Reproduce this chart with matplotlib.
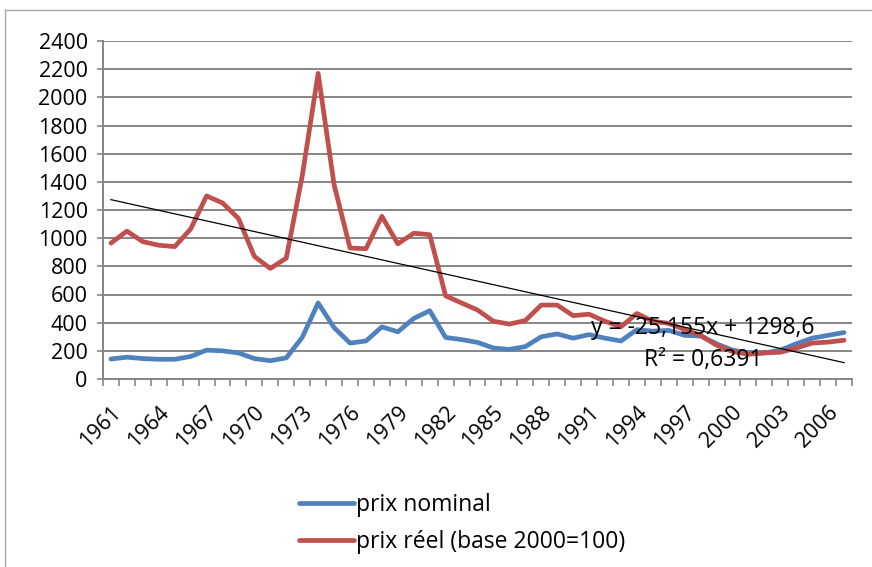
import numpy as np
import matplotlib
matplotlib.use('Agg')
import matplotlib.pyplot as plt
from matplotlib.lines import Line2D

years = list(range(1961, 2008))
prix_nominal = [142, 155, 145, 140, 140, 160, 205, 200, 185, 145, 130, 150, 295, 540, 365,
                255, 270, 370, 335, 430, 485, 295, 280, 260, 220, 210, 230, 300, 320, 290,
                315, 290, 270, 350, 340, 345, 310, 305, 250, 205, 185, 185, 205, 250, 290,
                310, 330]
prix_reel = [965, 1050, 975, 950, 940, 1065, 1300, 1250, 1140, 870, 785, 858, 1440, 2170, 1380,
             930, 925, 1155, 960, 1035, 1025, 590, 540, 490, 410, 390, 415, 525, 525, 450,
             460, 410, 370, 465, 410, 395, 350, 310, 240, 195, 175, 185, 190, 220, 255,
             262, 275]
slope = -25.155
intercept = 1298.6
r2 = '0,6391'
yticks = list(range(0, 2401, 200))

plt.rcParams['font.family'] = ['Open Sans', 'DejaVu Sans']

fig = plt.figure(figsize=(8.72, 5.67), dpi=100)
ax = fig.add_axes([103 / 872, 1 - 379 / 567, 749 / 872, 338 / 567])

x = np.arange(1, len(years) + 1)
grid_col = '#868686'

for v in yticks:
    ax.axhline(v, color=grid_col, lw=1.4, zorder=1)

l1, = ax.plot(x, prix_nominal, color='#4F81BD', lw=3.4, solid_capstyle='round',
              solid_joinstyle='round', label='prix nominal', zorder=3)
l2, = ax.plot(x, prix_reel, color='#C0504D', lw=3.4, solid_capstyle='round',
              solid_joinstyle='round', label='prix réel (base 2000=100)', zorder=3)
ax.plot(x, slope * x + intercept, color='black', lw=0.9, zorder=4)

ax.set_xlim(0.5, len(years) + 0.5)
ax.set_ylim(0, 2400)
ax.set_yticks(yticks)
ax.set_yticklabels([str(v) for v in yticks], fontsize=15.5)

# category labels at centres, tick marks at boundaries
ax.set_xticks(np.arange(0.5, len(years) + 1, 1))
ax.set_xticklabels([])
ax.tick_params(axis='x', length=5, color=grid_col, width=1.2, direction='out')
ax.tick_params(axis='y', length=4, color=grid_col, width=1.2, direction='out', pad=7)
for i in range(0, len(years), 3):
    ax.annotate(str(years[i]), xy=(x[i], 0), xycoords='data', xytext=(5, -22),
                textcoords='offset points', rotation=45, rotation_mode='anchor',
                ha='right', va='center', fontsize=15.5)

for s in ['top', 'right']:
    ax.spines[s].set_visible(False)
for s in ['left', 'bottom']:
    ax.spines[s].set_color(grid_col)
    ax.spines[s].set_linewidth(1.4)

ax.text(703 / 872, 1 - 328 / 567, 'y = -25,155x + 1298,6', transform=fig.transFigure,
        fontsize=16.5, ha='center', va='center', zorder=5)
ax.text(703 / 872, 1 - 360 / 567, 'R² = ' + r2, transform=fig.transFigure,
        fontsize=16.5, ha='center', va='center', zorder=5)

fig.legend(handles=[l1, l2], loc='upper left', bbox_to_anchor=(290 / 872, 1 - 484 / 567),
           frameon=False, fontsize=16.5, handlelength=2.4, handletextpad=0.1,
           labelspacing=0.58, borderaxespad=0)

# chart area border
fig.add_artist(Line2D([5 / 872, 5 / 872], [0, 1 - 10 / 567], color='#a6a6a6', lw=1))
fig.add_artist(Line2D([5 / 872, 1], [1 - 10 / 567, 1 - 10 / 567], color='#a6a6a6', lw=1))

fig.savefig('out.png', dpi=100)
